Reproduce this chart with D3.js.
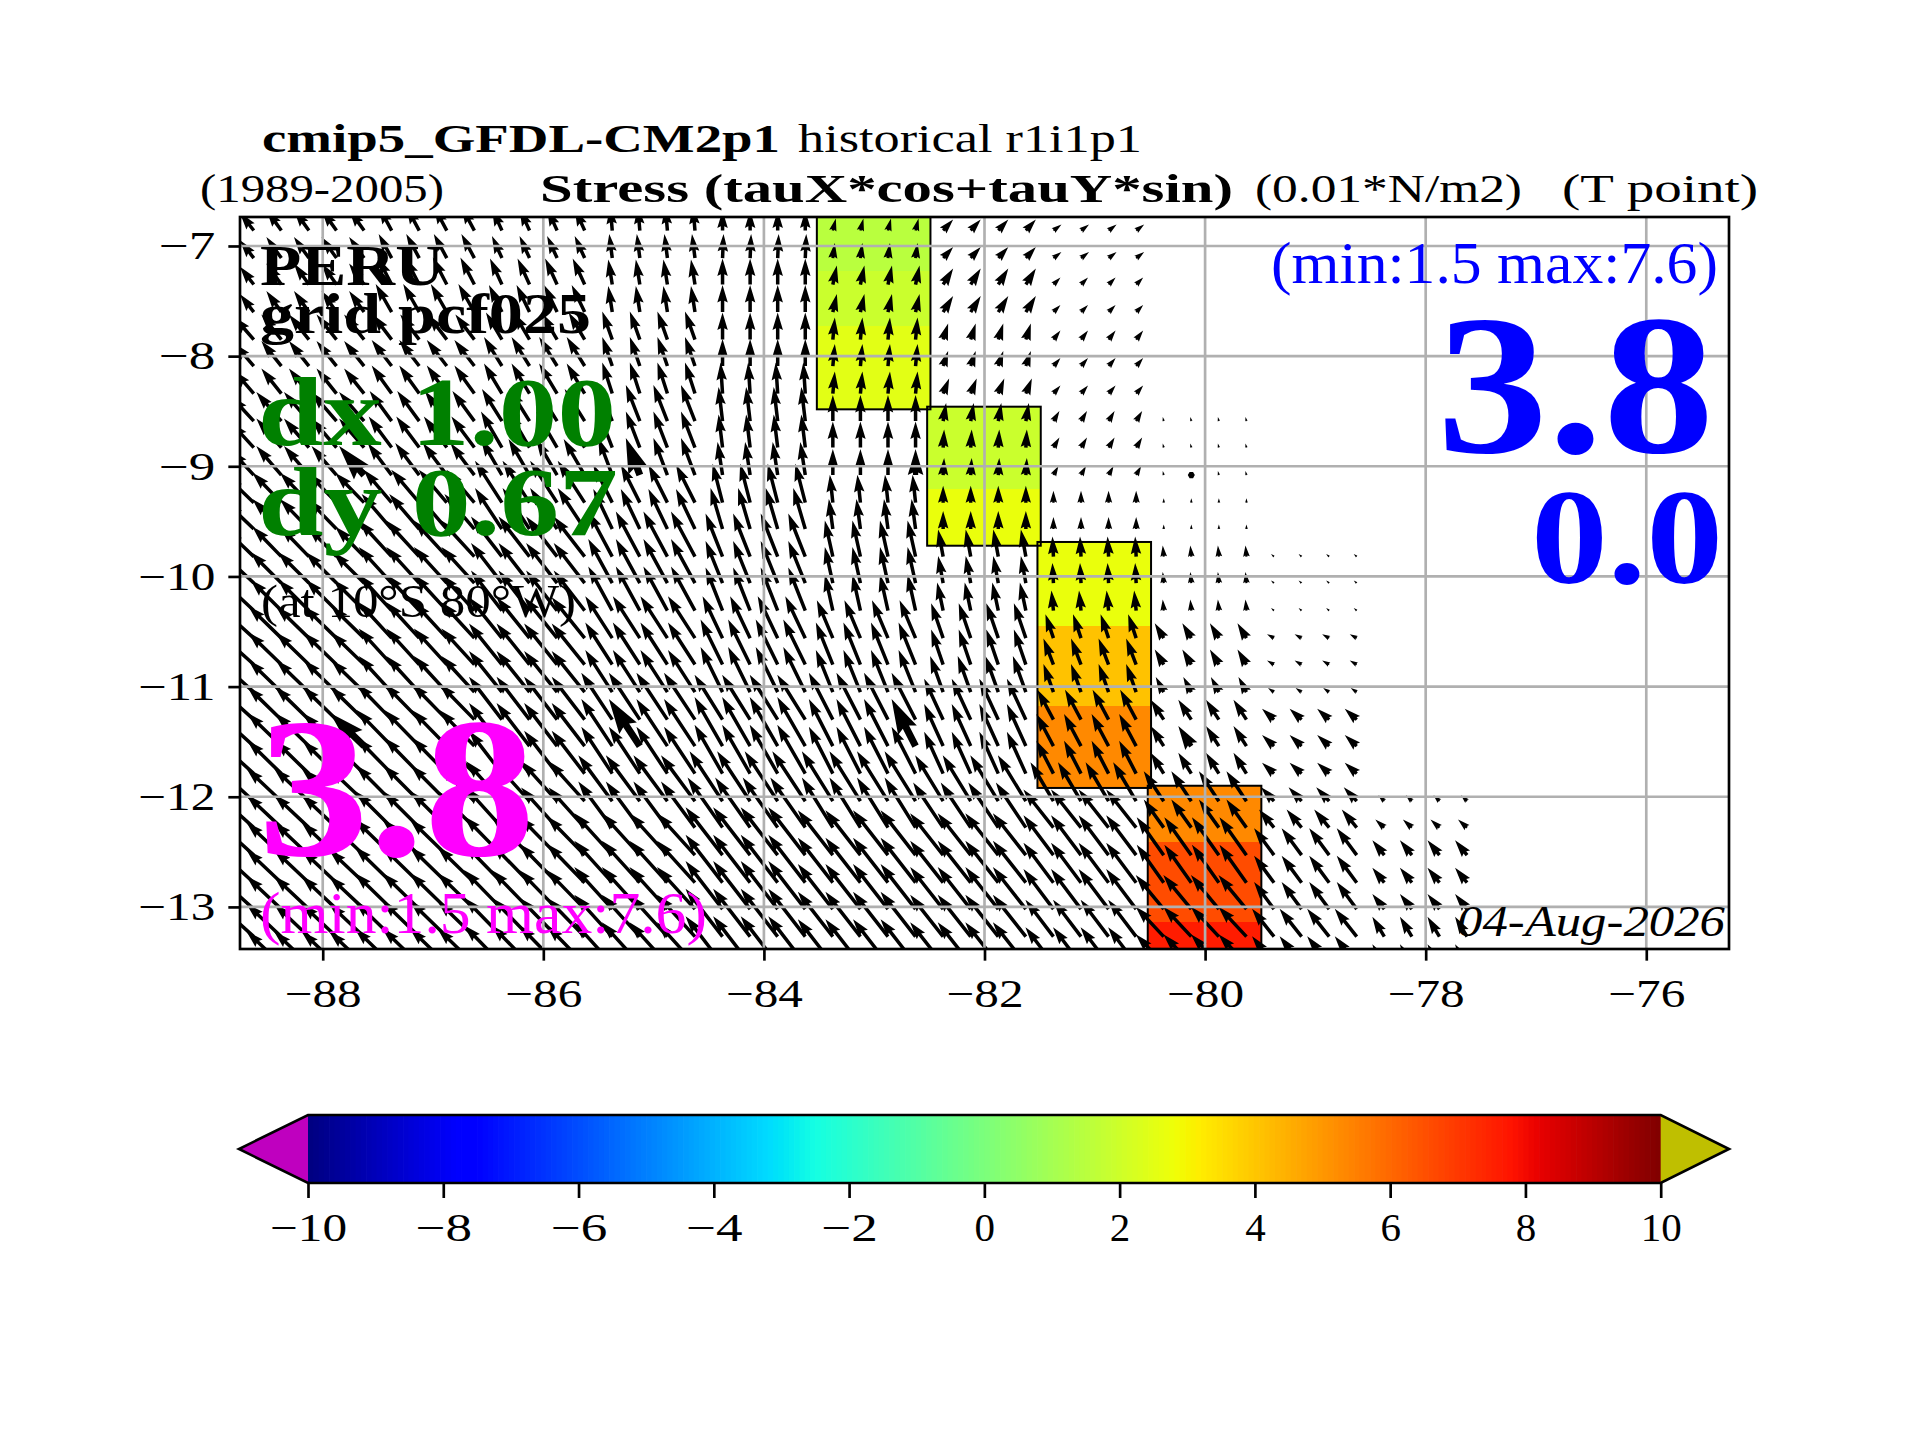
<!DOCTYPE html>
<html><head><meta charset="utf-8">
<script src="https://cdn.jsdelivr.net/npm/d3@7"></script>
<style>html,body{margin:0;padding:0;background:#fff}svg{display:block}text{font-family:"Liberation Serif",serif}</style>
</head><body><svg id="c" width="1920" height="1440" viewBox="0 0 1920 1440"></svg>
<script>
// ---- wind stress components (0.01*N/m2), one column per 1-degree block, one entry per row of rowLats
const rowLats=[-6.86,-7.11,-7.35,-7.60,-7.85,-8.09,-8.34,-8.59,-8.83,-9.08,-9.33,-9.57,-9.82,-10.06,-10.31,-10.56,-10.80,-11.05,-11.30,-11.54,-11.79,-12.04,-12.28,-12.53,-12.78,-13.02,-13.27,-13.52];
const blockLons=[-89,-88,-87,-86,-85,-84,-83,-82,-81,-80,-79,-78];
const colOffsets=[-0.375,-0.125,0.125,0.375];
const _=null;
const uM89=[-2.8,-2.8,-2.8,-2.8,-4,-4,-4,-4.6,-4.6,-4.6,-5.6,-5.6,-5.6,-6.2,-6.2,-6.4,-6.4,-6.4,-6.6,-6.6,-6.6,-6.6,-6.6,-6.6,-6.6,-6.6,-6.6,-6.6];
const vM89=[3.6,3.6,3.6,3.6,4.6,4.6,4.6,5,5,5,5.4,5.4,5.4,5.8,5.8,5.8,5.8,5.8,6,6,6,6,6,6,6,6,6,6];
const uM88=[-3,-3,-3,-3,-4,-4,-4,-5,-5,-5,-5.8,-5.8,-5.8,-6.2,-6.2,-6.6,-6.6,-6.6,-6.8,-6.8,-6.8,-7,-7,-7,-7,-7,-7,-7];
const vM88=[4.2,4.2,4.2,4.2,5,5,5,5.8,5.8,5.8,6,6,6,6.2,6.2,6.4,6.4,6.4,6.6,6.6,6.6,6.6,6.6,6.6,6.6,6.6,6.6,6.6];
const uM87=[-2.6,-2.6,-2.8,-3.2,-3.8,-4,-4,-4.4,-4.6,-4.8,-5.6,-6,-6.6,-6.6,-6.6,-6.6,-6.6,-6.6,-7,-7,-7,-7.2,-7.2,-7.4,-7.4,-7.4,-7.4,-7.4];
const vM87=[4.8,4.8,5.4,5.6,5,5.2,5.6,6,6.2,6.4,6.6,7,7.2,7.2,7.2,7.2,7.2,7.2,7.2,7.2,7.2,7.2,7.2,7.2,7.2,7.2,7.2,7.2];
const uM86=[-2,-2,-2.4,-2.6,-3.2,-3.6,-3.6,-4,-4.2,-4.2,-5.4,-5.4,-6.2,-6.2,-6.2,-6.6,-6.6,-6.6,-6.6,-6.6,-6.6,-7.2,-7.2,-7.6,-7.6,-7.6,-7.6,-7.6];
const vM86=[4.4,4.4,5.2,5.4,5.4,5.8,6,6.4,7.2,7.2,8.4,8.2,8,8,8,8.2,8.2,8.2,8.6,8.6,8.6,8,8,7.8,7.8,7.8,7.8,7.8];
const uM85=[-0.4,-0.6,-0.8,-0.8,-2,-2,-2,-2.8,-2.8,-2.8,-3.8,-3.8,-4.8,-4.8,-4.8,-5.4,-5.4,-5.4,-6.2,-6.2,-6.2,-6.8,-6.8,-7.6,-7.6,-7.6,-7.6,-7.6];
const vM85=[4.8,4.8,5,5.2,5.6,5.8,6.2,7.2,7.2,7.4,7.6,8,9,8.8,8.8,8.4,8.4,8.4,9.4,9.4,9.4,9.2,9.2,8.4,8.4,8.4,8.4,8.4];
const uM84=[0,0.2,0,0,0,0,-0.4,-0.8,-0.8,-1,-2,-2.4,-3.4,-3.4,-3.4,-4,-4.4,-4.4,-5.6,-5.6,-5.6,-6.6,-7,-7.4,-7.4,-7.4,-7.4,-7.4];
const vM84=[4,4.8,5.2,5.4,5.4,5.4,6.2,6.8,6.6,6.6,7.8,8.2,8.6,8.4,8.6,8.4,9,9,9,9.8,9.8,10,10,9.6,9.6,9.6,9.6,9.6];
const uM83=[0.6,0.4,0.8,0.8,0.4,0.4,0.4,0,0,0,-0.6,-0.8,-1.6,-1.6,-1.6,-3.2,-3.4,-3.4,-4.8,-4.8,-4.8,-6.2,-6.2,-7,-7,-7,-7,-7];
const vM83=[2.4,3,3.8,3.6,4.4,4.4,4.4,5.2,5.2,5.2,5.6,6,7.2,7.2,7.2,7.6,8.4,8.4,9.4,9.4,9.4,10,10,9,9,9,9,9];
const uM82=[2,2,2,2,1,1,1.2,0.6,0.2,0.2,0,0,-1,-1,-1.2,-2.4,-2.4,-2.6,-3.8,-3.8,-3.8,-5.6,-6,-6.6,-6.6,-6.6,-6.6,-6.6];
const vM82=[2.2,2.2,3.2,3.2,3.2,3,3,3.6,3.6,3.4,3.4,3.6,5.4,5.4,5.6,7,7,7.2,8.2,8.4,8.4,9.2,9,8.4,8.4,8.4,8.4,8.4];
const uM81=[1.6,1.6,1.4,1.4,1.4,1.4,1.4,1.2,1.2,1,0,0,-0.2,-0.2,-0.4,-1.6,-2,-2,-3.2,-3.4,-3.4,-4.6,-6,-6,-6,-6,-5.6,-5.6];
const vM81=[1.2,1.2,1.4,1.4,1.8,1.6,1.6,2,2,1.8,2.4,2.4,4,4,4,4.8,5.2,5.6,6,6.4,6.6,7.8,7.6,8,8,8,7.4,7.4];
const uM80=[_,_,_,_,_,_,_,-0.2,-0.2,-0.2,0,0,-0.2,-0.2,-0.2,-1.8,-1.8,-1.6,-2.6,-2.6,-2.6,-4,-4,-5.4,-5.4,-5.6,-5.6,-5.6];
const vM80=[_,_,_,_,_,_,_,0.8,0.8,0.8,0.9,0.9,2.2,2.2,2.2,3,3,3,4,4,4.2,6,5.6,7.6,7.6,6.8,6,6];
const uM79=[_,_,_,_,_,_,_,_,_,_,_,_,-0.6,-0.6,-0.6,-1.4,-1.4,-1.2,-2.4,-2.4,-2.4,-2.6,-3,-4,-4,-4,-4.4,-4.4];
const vM79=[_,_,_,_,_,_,_,_,_,_,_,_,0.5,0.5,0.5,0.8,0.8,0.8,2.2,2.2,2.2,2.8,3.6,5.4,5.4,5.4,5.6,5.6];
const uM78=[_,_,_,_,_,_,_,_,_,_,_,_,_,_,_,_,_,_,_,_,_,-1.2,-1.8,-2.4,-2.4,-2.4,-2.4,-2.4];
const vM78=[_,_,_,_,_,_,_,_,_,_,_,_,_,_,_,_,_,_,_,_,_,1.2,1.6,3,3,3,4,4];
const tauU=[uM89,uM88,uM87,uM86,uM85,uM84,uM83,uM82,uM81,uM80,uM79,uM78];
const tauV=[vM89,vM88,vM87,vM86,vM85,vM84,vM83,vM82,vM81,vM80,vM79,vM78];
const boldLons=[-87.625,-85.125,-82.625,-80.125];
const boldRows=[9,19];
// ---- coastal band cells
const bandLon=[-83,-83,-83,-82,-82,-81,-81,-81,-80,-80,-80];
const bandTop=[-6.737,-7.23,-7.73,-8.459,-9.21,-9.687,-10.45,-11.18,-11.90,-12.41,-13.14];
const bandBot=[-7.23,-7.73,-8.483,-9.21,-9.721,-10.45,-11.18,-11.92,-12.41,-13.14,-13.382];
const bandVal=[1.5,1.9,2.5,1.9,2.7,2.7,4.1,5.3,5.3,6.6,7.6];
const outlineLon=[-83,-82,-81,-80];
const outlineTop=[-6.737,-8.459,-9.687,-11.90];
const outlineBot=[-8.483,-9.721,-11.92,-13.382];
// ---- axes
const xTicks=[-88,-86,-84,-82,-80,-78,-76];
const yTicks=[-7,-8,-9,-10,-11,-12,-13];
const cbTicks=[-10,-8,-6,-4,-2,0,2,4,6,8,10];

const svg=d3.select("#c");
const L=240,R=1729,T=217,B=949;
const x=d3.scaleLinear().domain([-88.75,-75.25]).range([L,R]);
const y=d3.scaleLinear().domain([-6.737,-13.382]).range([T,B]);
const cb=d3.scaleLinear().domain([-10,10]).range([308,1660.7]);
const pxPerUnit=5, shaft=3.5;
// matplotlib jet
const jr=d3.scaleLinear().domain([0,.35,.66,.89,1]).range([0,0,1,1,.5]);
const jg=d3.scaleLinear().domain([0,.125,.375,.64,.91,1]).range([0,0,1,1,0,0]);
const jb=d3.scaleLinear().domain([0,.11,.34,.65,1]).range([.5,1,1,0,0]);
const vt=d3.scaleLinear().domain([-10,10]).range([0,1]);
const jet=v=>{const t=vt(v);return d3.rgb(jr(t)*255,jg(t)*255,jb(t)*255).formatRgb();};

svg.append("defs").append("clipPath").attr("id","ax").append("rect").attr("x",L).attr("y",T).attr("width",R-L).attr("height",B-T);
const plot=svg.append("g").attr("clip-path","url(#ax)");
const halfW=0.515, shift=-0.005;
// cells
plot.append("g").selectAll("rect").data(bandLon).join("rect")
 .attr("x",d=>x(d-halfW+shift)).attr("width",d=>x(d+halfW+shift)-x(d-halfW+shift))
 .attr("y",(d,i)=>y(bandTop[i])).attr("height",(d,i)=>y(bandBot[i])-y(bandTop[i]))
 .attr("fill",(d,i)=>jet(bandVal[i])).attr("shape-rendering","crispEdges");
plot.append("g").selectAll("rect").data(outlineLon).join("rect")
 .attr("x",d=>x(d-halfW+shift)).attr("width",d=>x(d+halfW+shift)-x(d-halfW+shift))
 .attr("y",(d,i)=>y(outlineTop[i])).attr("height",(d,i)=>y(outlineBot[i])-y(outlineTop[i]))
 .attr("fill","none").attr("stroke","#000").attr("stroke-width",2);
// quiver
function arrowPath(u,v,w){
  const dx=u*pxPerUnit, dy=-v*pxPerUnit, len=Math.hypot(dx,dy);
  if(len<w){ // matplotlib draws a hexagon for too-short vectors
    const r=w/2, p=d3.range(6).map(k=>[r*Math.cos(k*Math.PI/3),r*Math.sin(k*Math.PI/3)]);
    return "M"+p.map(q=>q.map(n=>n.toFixed(2)).join(",")).join("L")+"Z";
  }
  const s=len<5*w?len/(5*w):1, W=w*s;
  const a=Math.atan2(dy,dx),c=Math.cos(a),n=Math.sin(a);
  const pts=[[0,.5*W],[len-4.5*W,.5*W],[len-5*W,1.5*W],[len,0],[len-5*W,-1.5*W],[len-4.5*W,-.5*W],[0,-.5*W]];
  return "M"+pts.map(([px,py])=>(px*c-py*n).toFixed(2)+","+(px*n+py*c).toFixed(2)).join("L")+"Z";
}
const vectors=[];
blockLons.forEach((lon,b)=>rowLats.forEach((lat,r)=>{
  if(tauU[b][r]===null)return;
  colOffsets.forEach(o=>vectors.push({lon:lon+o,lat,u:tauU[b][r],v:tauV[b][r],bold:boldRows.includes(r)&&boldLons.includes(lon+o)}));
}));
plot.append("g").selectAll("path").data(vectors).join("path")
 .attr("transform",d=>`translate(${x(d.lon)},${y(d.lat)})`)
 .attr("d",d=>arrowPath(d.u,d.v,d.bold?shaft*2:shaft)).attr("fill","#000");
// grid
const grid=plot.append("g").attr("stroke","#b0b0b0").attr("stroke-width",2.67);
grid.selectAll(".gx").data(xTicks).join("line").attr("x1",d=>x(d)).attr("x2",d=>x(d)).attr("y1",T).attr("y2",B);
grid.selectAll(".gy").data(yTicks).join("line").attr("y1",d=>y(d)).attr("y2",d=>y(d)).attr("x1",L).attr("x2",R);
// axes
const fmt=d3.format("d");
function styleAxis(g){g.select(".domain").remove();g.selectAll("line").attr("stroke","#000").attr("stroke-width",2.67);
  g.selectAll("text").attr("fill","#000").attr("font-size",40).attr("font-family","Liberation Serif")
   .attr("textLength",d=>(d<0?36:0)+String(Math.abs(d)).length*20.5).attr("lengthAdjust","spacingAndGlyphs");}
svg.append("g").attr("transform",`translate(0,${B})`).call(d3.axisBottom(x).tickValues(xTicks).tickFormat(fmt).tickSize(11.67).tickPadding(18)).call(styleAxis);
svg.append("g").attr("transform",`translate(${L},0)`).call(d3.axisLeft(y).tickValues(yTicks).tickFormat(fmt).tickSize(11.67).tickPadding(13)).call(styleAxis);
svg.append("rect").attr("x",L).attr("y",T).attr("width",R-L).attr("height",B-T).attr("fill","none").attr("stroke","#000").attr("stroke-width",2.67);
// colour bar
const cbT=1115,cbB=1183,cbM=(cbT+cbB)/2;
const levels=d3.range(0,256).map(i=>-10+i*20/256);
const levelW=(cb(10)-cb(-10))/256;
svg.append("g").selectAll("rect").data(levels).join("rect")
 .attr("x",d=>cb(d)).attr("width",levelW+0.7).attr("y",cbT).attr("height",cbB-cbT).attr("fill",d=>jet(d+10/256));
const tipL=239,tipR=1729;
svg.append("path").attr("d",`M${cb(-10)},${cbT}L${tipL},${cbM}L${cb(-10)},${cbB}Z`).attr("fill","#bf00bf");
svg.append("path").attr("d",`M${cb(10)},${cbT}L${tipR},${cbM}L${cb(10)},${cbB}Z`).attr("fill","#bfbf00");
svg.append("path").attr("d",`M${cb(-10)},${cbT}L${cb(10)},${cbT}L${tipR},${cbM}L${cb(10)},${cbB}L${cb(-10)},${cbB}L${tipL},${cbM}Z`).attr("fill","none").attr("stroke","#000").attr("stroke-width",2.67);
svg.append("g").attr("transform",`translate(0,${cbB})`).call(d3.axisBottom(cb).tickValues(cbTicks).tickFormat(fmt).tickSize(15).tickPadding(14.6)).call(styleAxis);
// text
const labels=[
 ["cmip5_GFDL-CM2p1",262,152,40,"#000",700,"normal",518],
 ["historical r1i1p1",798,152,40,"#000",400,"normal",344],
 ["(1989-2005)",200,202,40,"#000",400,"normal",244],
 ["Stress (tauX*cos+tauY*sin)",540,202,40,"#000",700,"normal",693],
 ["(0.01*N/m2)",1255,202,40,"#000",400,"normal",267],
 ["(T point)",1562,202,40,"#000",400,"normal",196],
 ["PERU",260,285,58,"#000",700,"normal",184],
 ["grid pcf025",260,333,57,"#000",700,"normal",331],
 ["dx 1.00",258,445,98,"#008000",700,"normal",358],
 ["dy 0.67",258,535,98,"#008000",700,"normal",360],
 ["(at 10°S 80°W)",261,617,46,"#000",400,"normal",315],
 ["3.8",258,855,200,"#ff00ff",700,"normal",277],
 ["(min:1.5 max:7.6)",260,933,60,"#ff00ff",400,"normal",447],
 ["(min:1.5 max:7.6)",1271,283,60,"#0000ff",400,"normal",447],
 ["3.8",1437,452,200,"#0000ff",700,"normal",277],
 ["0.0",1531,583,135,"#0000ff",700,"normal",192],
 ["04-Aug-2026",1457,936,45,"#000",400,"italic",268]
];
svg.append("g").selectAll("text").data(labels).join("text")
 .attr("x",d=>d[1]).attr("y",d=>d[2]).attr("font-size",d=>d[3]).attr("fill",d=>d[4]).attr("font-weight",d=>d[5]).attr("font-style",d=>d[6])
 .attr("textLength",d=>d[7]).attr("lengthAdjust","spacingAndGlyphs").text(d=>d[0]);
</script></body></html>
